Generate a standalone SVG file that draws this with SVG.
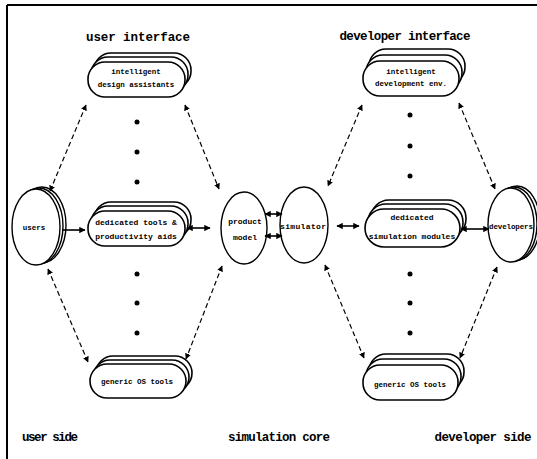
<svg xmlns="http://www.w3.org/2000/svg" width="537" height="459" viewBox="0 0 537 459">
<style>
.t{font-family:"Liberation Mono","DejaVu Sans Mono",monospace;font-weight:bold;fill:#000;text-anchor:middle}
.big{font-size:12.5px}
.sm{font-size:7.5px}
.md{font-size:8px}
.pill{fill:#fff;stroke:#000;stroke-width:1.6}
.ell{fill:#fff;stroke:#000;stroke-width:1.4}
.dash{fill:none;stroke:#000;stroke-width:1.2;stroke-dasharray:5,3;marker-start:url(#ah);marker-end:url(#ah)}
.solid{fill:none;stroke:#000;stroke-width:1.6}
.dot{fill:#000}
</style>
<defs>
<marker id="ah" viewBox="0 0 10 10" refX="9" refY="5" markerWidth="5" markerHeight="5" orient="auto-start-reverse" markerUnits="strokeWidth"><path d="M0,0 L10,5 L0,10 z" fill="#000"/></marker>
<marker id="ah2" viewBox="0 0 10 10" refX="9" refY="5" markerWidth="4" markerHeight="4" orient="auto-start-reverse" markerUnits="strokeWidth"><path d="M0,0 L10,5 L0,10 z" fill="#000"/></marker>
</defs>
<rect width="537" height="459" fill="#fff"/>
<g id="frame" stroke="#000" stroke-width="2" fill="none">
<line x1="7" y1="5" x2="537" y2="5"/>
<line x1="7" y1="5" x2="7" y2="459"/>
</g>
<g id="titles">
<text class="t big" x="138" y="41" textLength="104">user interface</text>
<text class="t big" x="405" y="40" textLength="131">developer interface</text>
<text class="t big" x="50" y="441" textLength="56">user side</text>
<text class="t big" x="279" y="441" textLength="102">simulation core</text>
<text class="t big" x="483" y="441" textLength="97">developer side</text>
</g>
<g id="dots">
<circle class="dot" cx="137" cy="122" r="2.5"/><circle class="dot" cx="137" cy="152" r="2.5"/><circle class="dot" cx="137" cy="182" r="2.5"/>
<circle class="dot" cx="137" cy="274" r="2.5"/><circle class="dot" cx="137" cy="303" r="2.5"/><circle class="dot" cx="137" cy="333" r="2.5"/>
<circle class="dot" cx="410" cy="115" r="2.5"/><circle class="dot" cx="410" cy="146" r="2.5"/><circle class="dot" cx="410" cy="176" r="2.5"/>
<circle class="dot" cx="410" cy="274" r="2.5"/><circle class="dot" cx="410" cy="303" r="2.5"/><circle class="dot" cx="410" cy="333" r="2.5"/>
</g>
<g id="node-design-assistants">
<rect class="pill" x="94" y="53" width="97" height="35" rx="17"/>
<rect class="pill" x="91" y="57" width="97" height="35" rx="17"/>
<rect class="pill" x="88" y="62" width="97" height="35" rx="17"/>
<text class="t sm" x="136" y="74">intelligent</text>
<text class="t sm" x="136" y="87">design assistants</text>
</g>
<g id="node-dedicated-tools">
<rect class="pill" x="94" y="202" width="97" height="35" rx="17"/>
<rect class="pill" x="91" y="206" width="97" height="35" rx="17"/>
<rect class="pill" x="88" y="211" width="97" height="35" rx="17"/>
<text class="t md" x="136" y="225">dedicated tools &amp;</text>
<text class="t md" x="136" y="239">productivity aids</text>
</g>
<g id="node-generic-user">
<rect class="pill" x="96" y="356" width="96" height="34" rx="17"/>
<rect class="pill" x="93" y="360" width="96" height="34" rx="17"/>
<rect class="pill" x="90" y="364" width="96" height="34" rx="17"/>
<text class="t sm" x="137" y="384">generic OS tools</text>
</g>
<g id="node-development-env">
<rect class="pill" x="369" y="49" width="96" height="35" rx="17"/>
<rect class="pill" x="366" y="55" width="96" height="35" rx="17"/>
<rect class="pill" x="363" y="61" width="96" height="35" rx="17"/>
<text class="t sm" x="411" y="74">intelligent</text>
<text class="t sm" x="411" y="86">development env.</text>
</g>
<g id="node-simulation-modules">
<rect class="pill" x="371" y="200" width="95" height="37" rx="18"/>
<rect class="pill" x="368" y="204" width="95" height="37" rx="18"/>
<rect class="pill" x="365" y="209" width="95" height="38" rx="19"/>
<text class="t md" x="412" y="220">dedicated</text>
<text class="t md" x="412" y="239">simulation modules</text>
</g>
<g id="node-generic-dev">
<rect class="pill" x="369" y="354" width="95" height="35" rx="17"/>
<rect class="pill" x="366" y="359" width="95" height="35" rx="17"/>
<rect class="pill" x="363" y="365" width="95" height="35" rx="17"/>
<text class="t sm" x="410" y="387">generic OS tools</text>
</g>
<g id="node-users">
<ellipse class="ell" cx="42" cy="225" rx="24" ry="38"/>
<ellipse class="ell" cx="39" cy="226" rx="24" ry="38"/>
<ellipse class="ell" cx="36" cy="227" rx="24" ry="38"/>
<text class="t sm" x="34" y="230">users</text>
</g>
<g id="node-product-model">
<ellipse class="ell" cx="244" cy="228" rx="23" ry="36"/>
<text class="t md" x="245" y="224">product</text>
<text class="t md" x="245" y="240">model</text>
</g>
<g id="node-simulator">
<ellipse class="ell" cx="304" cy="225" rx="24" ry="38"/>
<text class="t md" x="303" y="229" textLength="46">simulator</text>
</g>
<g id="node-developers">
<ellipse class="ell" cx="517" cy="223" rx="23" ry="37"/>
<ellipse class="ell" cx="514" cy="224" rx="23" ry="37"/>
<ellipse class="ell" cx="511" cy="225" rx="23" ry="37"/>
<text class="t sm" x="511" y="229" textLength="44">developers</text>
</g>
<g id="connectors">
<line class="dash" x1="86" y1="105" x2="50" y2="191"/>
<line class="dash" x1="185" y1="105" x2="219" y2="189"/>
<line class="dash" x1="48" y1="269" x2="88" y2="362"/>
<line class="dash" x1="222" y1="266" x2="186" y2="359"/>
<line class="dash" x1="362" y1="105" x2="328" y2="186"/>
<line class="dash" x1="459" y1="103" x2="495" y2="189"/>
<line class="dash" x1="325" y1="265" x2="364" y2="358"/>
<line class="dash" x1="497" y1="267" x2="460" y2="358"/>
<line class="solid" x1="62" y1="230" x2="85" y2="230" marker-end="url(#ah2)"/>
<line class="solid" x1="187" y1="228" x2="210" y2="228" marker-start="url(#ah2)" marker-end="url(#ah2)"/>
<line class="solid" x1="265" y1="214" x2="282" y2="214" marker-start="url(#ah2)" marker-end="url(#ah2)"/>
<line class="solid" x1="265" y1="236" x2="282" y2="236" marker-start="url(#ah2)" marker-end="url(#ah2)"/>
<line class="solid" x1="337" y1="226" x2="359" y2="226" marker-start="url(#ah2)" marker-end="url(#ah2)"/>
<line class="solid" x1="461" y1="229" x2="489" y2="229" stroke-width="1.2" marker-start="url(#ah2)" marker-end="url(#ah2)"/>
</g>
</svg>
